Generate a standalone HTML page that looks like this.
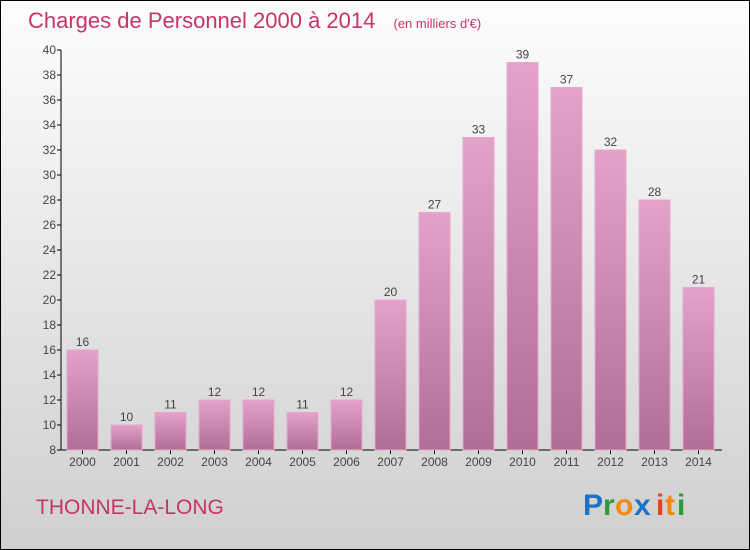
<!DOCTYPE html>
<html><head><meta charset="utf-8"><style>
body{margin:0}
#c{width:750px;height:550px;position:relative;box-sizing:border-box;border:1px solid #000;background:linear-gradient(#fdfdfd,#cfcfcf);font-family:"Liberation Sans",sans-serif;overflow:hidden}
</style></head><body>
<div id="c">
<svg width="750" height="550" style="position:absolute;left:-1px;top:-1px">
<defs><linearGradient id="g" x1="0" y1="0" x2="0" y2="1"><stop offset="0" stop-color="#e3a3c8"/><stop offset="1" stop-color="#b06e95"/></linearGradient></defs>
<text x="28" y="28" font-size="22" fill="#c8336a">Charges de Personnel 2000 à 2014 <tspan font-size="13" dx="12">(en milliers d'€)</tspan></text>
<g id="ax"></g><g id="bars"></g>
<text x="36" y="514" font-size="21" fill="#c8336a">THONNE-LA-LONG</text>
<g font-size="30" font-weight="bold">
<text x="583" y="515" fill="#1a73c8">P</text><text x="603" y="515" fill="#2a9a3a">r</text><text x="615" y="515" fill="#f08a10">o</text><text x="634" y="515" fill="#1a73c8">x</text><text x="656" y="515" fill="#e8401a">i</text><text x="665" y="515" fill="#f08a10">t</text><text x="677" y="515" fill="#2a9a3a">i</text></g>
</svg></div>
<script>
const years=["2000","2001","2002","2003","2004","2005","2006","2007","2008","2009","2010","2011","2012","2013","2014"];
const values=[16,10,11,12,12,11,12,20,27,33,39,37,32,28,21];
const yTicks=[8,10,12,14,16,18,20,22,24,26,28,30,32,34,36,38,40];
const ns="http://www.w3.org/2000/svg";
const y=v=>450-(v-8)*12.5, x=i=>82.5+i*44;
function mk(t,a,p,txt){const e=document.createElementNS(ns,t);for(const k in a)e.setAttribute(k,a[k]);if(txt!==undefined)e.textContent=txt;p.appendChild(e);return e;}
const ax=document.getElementById('ax'),bg=document.getElementById('bars');
let l=mk('line',{x1:61,y1:50,x2:61,y2:450,stroke:'#000'},ax);


l=mk('line',{x1:61,y1:450,x2:722,y2:450,stroke:'#000'},ax);


yTicks.forEach(v=>{mk('line',{x1:57,y1:y(v),x2:61,y2:y(v),stroke:'#000'},ax);
const t=mk('text',{x:56,y:y(v)+4,'font-size':12,fill:'#444','text-anchor':'end'},ax,v);

});
years.forEach((yr,i)=>{
mk('line',{x1:x(i),y1:450,x2:x(i),y2:454,stroke:'#000'},ax);
const t=mk('text',{x:x(i),y:466,'font-size':12,fill:'#444','text-anchor':'middle'},ax,yr);


const r=mk('rect',{x:x(i)-15.5,y:y(values[i]),width:31,height:450-y(values[i]),fill:'url(#g)',stroke:'#eaa6cf','stroke-width':1},bg);


const lb=mk('text',{x:x(i),y:y(values[i])-4,'font-size':12,fill:'#444','text-anchor':'middle'},bg,values[i]);


});
</script></body></html>
